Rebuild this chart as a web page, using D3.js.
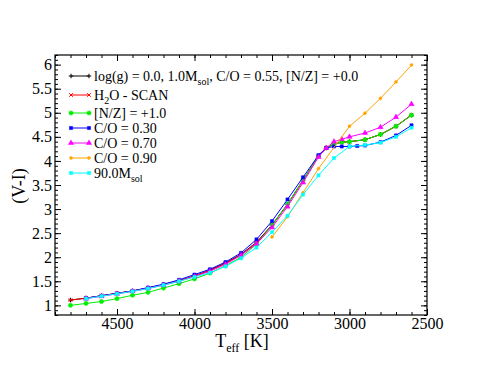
<!DOCTYPE html>
<html>
<head>
	<meta charset='utf-8'>
	<title>(V-I) vs Teff</title>
	<style>
		body { margin: 0; background: #fff; }
		.axis path { stroke: none; }
		.axis line { stroke: #000; stroke-width: 1px; }
		.frame { fill: none; stroke: #000; stroke-width: 1.2px; }
		.series { fill: none; stroke-width: 1px; }
	</style>
</head>
<body>
<div id="chart"></div>
<script src='https://cdnjs.cloudflare.com/ajax/libs/d3/7.8.5/d3.min.js'></script>
<script>
	'use strict';

	// температуры
	const tMain = [4800, 4700, 4600, 4500, 4400, 4300, 4200, 4100, 4000, 3900, 3800, 3700, 3600, 3500, 3400, 3300, 3200, 3150, 3100, 3050, 3000, 2900, 2800, 2700, 2600];
	const tBlue = [4700, 4600, 4500, 4400, 4300, 4200, 4100, 4000, 3900, 3800, 3700, 3600, 3500, 3400, 3300, 3200, 3150, 3100, 3050, 3000, 2950, 2900, 2800, 2700, 2600];
	const tPink = [4700, 4600, 4500, 4400, 4300, 4200, 4100, 4000, 3900, 3800, 3700, 3600, 3500, 3400, 3300, 3200, 3150, 3100, 3050, 3000, 2900, 2800, 2700, 2600];
	const tOrange = [3500, 3400, 3300, 3200, 3000, 2900, 2800, 2700, 2600];
	const tCyan = [4700, 4600, 4500, 4400, 4300, 4200, 4100, 4000, 3900, 3800, 3700, 3600, 3500, 3400, 3300, 3200, 3100, 3000, 2900, 2800, 2700, 2600];

	// (V-I)
	const viRef   = [1.11, 1.15, 1.20, 1.25, 1.30, 1.36, 1.43, 1.51, 1.61, 1.73, 1.88, 2.06, 2.31, 2.67, 3.10, 3.60, 4.10, 4.27, 4.35, 4.39, 4.40, 4.44, 4.55, 4.72, 4.95];
	const viH2O   = [1.11, 1.15, 1.20, 1.25, 1.30, 1.36, 1.43, 1.51, 1.61, 1.73, 1.87, 2.05, 2.30, 2.66, 3.09, 3.59, 4.10, 4.27, 4.35, 4.39, 4.40, 4.44, 4.55, 4.72, 4.96];
	const viNZ    = [1.00, 1.04, 1.08, 1.14, 1.21, 1.27, 1.36, 1.45, 1.55, 1.67, 1.82, 2.00, 2.27, 2.66, 3.10, 3.60, 4.10, 4.27, 4.35, 4.39, 4.40, 4.44, 4.55, 4.72, 4.95];
	const viCO30  = [1.15, 1.20, 1.25, 1.30, 1.37, 1.44, 1.53, 1.64, 1.75, 1.90, 2.09, 2.37, 2.75, 3.20, 3.66, 4.12, 4.27, 4.30, 4.30, 4.30, 4.31, 4.32, 4.39, 4.53, 4.74];
	const viCO70  = [1.14, 1.19, 1.24, 1.29, 1.35, 1.42, 1.50, 1.60, 1.71, 1.85, 2.04, 2.28, 2.62, 3.05, 3.55, 4.08, 4.27, 4.40, 4.45, 4.50, 4.58, 4.70, 4.91, 5.18];
	const viCO90  = [2.42, 2.84, 3.34, 3.84, 4.72, 4.99, 5.30, 5.64, 5.99];
	const viM90   = [1.14, 1.19, 1.24, 1.29, 1.35, 1.42, 1.50, 1.59, 1.68, 1.81, 1.98, 2.20, 2.52, 2.86, 3.30, 3.70, 4.06, 4.30, 4.33, 4.38, 4.50, 4.69];

	const xTicks = [4500, 4000, 3500, 3000, 2500];
	const yTicks = [1, 1.5, 2, 2.5, 3, 3.5, 4, 4.5, 5, 5.5, 6];

	const FONT = "'Liberation Serif', 'Times New Roman', Times, 'DejaVu Serif', serif";
	const W = 494, H = 382;
	const plot = {left: 55, right: 427, top: 55, bottom: 315};

	const xScale = d3.scaleLinear().domain([4900, 2500]).range([plot.left, plot.right]);
	const yScale = d3.scaleLinear().domain([0.8, 6.2]).range([plot.bottom, plot.top]);

	const svg = d3.select('#chart').append('svg')
		.attr('width', W)
		.attr('height', H)
		.style('font-family', FONT);

	// Оси: основные и мелкие деления, все внутрь
	const xMinor = d3.range(4900, 2499, -100);
	const yMinor = d3.range(8, 63).map(v => v / 10);

	function addAxis(axis, tx, ty, labels) {
		const g = svg.append('g')
			.attr('class', 'axis')
			.attr('transform', 'translate(' + tx + ',' + ty + ')')
			.call(axis)
			.attr('font-family', null)
			.attr('font-size', null);
		if (!labels) g.selectAll('text').remove();
		g.selectAll('text')
			.style('font-family', FONT)
			.style('font-size', '16px')
			.attr('fill', '#000');
		return g;
	}

	addAxis(d3.axisBottom(xScale).tickValues(xMinor).tickSize(-3).tickFormat(''), 0, plot.bottom, false);
	addAxis(d3.axisTop(xScale).tickValues(xMinor).tickSize(-3).tickFormat(''), 0, plot.top, false);
	addAxis(d3.axisLeft(yScale).tickValues(yMinor).tickSize(-3).tickFormat(''), plot.left, 0, false);
	addAxis(d3.axisRight(yScale).tickValues(yMinor).tickSize(-3).tickFormat(''), plot.right, 0, false);

	addAxis(d3.axisBottom(xScale).tickValues(xTicks).tickSize(-6).tickPadding(3).tickFormat(d3.format('d')), 0, plot.bottom, true);
	addAxis(d3.axisTop(xScale).tickValues(xTicks).tickSize(-6), 0, plot.top, false);
	addAxis(d3.axisLeft(yScale).tickValues(yTicks).tickSize(-6).tickPadding(3).tickFormat(d => String(d)), plot.left, 0, true);
	addAxis(d3.axisRight(yScale).tickValues(yTicks).tickSize(-6), plot.right, 0, false);

	svg.append('rect')
		.attr('class', 'frame')
		.attr('x', plot.left).attr('y', plot.top)
		.attr('width', plot.right - plot.left).attr('height', plot.bottom - plot.top);

	// Серии
	const series = [
		{t: tMain, v: viRef, color: '#000000', symbol: d3.symbolPlus, size: 8, fill: false},
		{t: tMain, v: viH2O, color: '#ff0000', symbol: d3.symbolTimes, size: 10, fill: false},
		{t: tMain, v: viNZ, color: '#00ee00', symbol: d3.symbolCircle, size: 14, fill: true},
		{t: tBlue, v: viCO30, color: '#0000ff', symbol: d3.symbolSquare, size: 10, fill: true},
		{t: tPink, v: viCO70, color: '#ff00ff', symbol: d3.symbolTriangle, size: 12, fill: true},
		{t: tOrange, v: viCO90, color: '#ffa500', symbol: d3.symbolCircle, size: 7, fill: true},
		{t: tCyan, v: viM90, color: '#00ffff', symbol: d3.symbolSquare, size: 10, fill: true}
	];

	const line = d3.line()
		.x(d => xScale(d[0]))
		.y(d => yScale(d[1]));

	function drawMarker(g, s, x, y) {
		g.append('path')
			.attr('d', d3.symbol().type(s.symbol).size(s.size)())
			.attr('transform', 'translate(' + x + ',' + y + ')')
			.attr('fill', s.fill ? s.color : 'none')
			.attr('stroke', s.color)
			.attr('stroke-width', s.fill ? 0.5 : 1);
	}

	series.forEach(s => {
		const pts = s.t.map((t, i) => [t, s.v[i]]);
		const g = svg.append('g');
		g.append('path')
			.datum(pts)
			.attr('class', 'series')
			.attr('stroke', s.color)
			.attr('d', line);
		pts.forEach(p => drawMarker(g, s, xScale(p[0]), yScale(p[1])));
	});

	// Легенда
	const legendY = [76, 95, 113, 128, 143, 158, 173];
	const legend = svg.append('g').attr('class', 'legend');

	function addSub(text, parts) {
		parts.forEach(p => {
			const ts = text.append('tspan').text(p.s);
			if (p.sub) ts.style('font-size', '10px').attr('dy', '4');
			else if (p.up) ts.attr('dy', '-4');
		});
	}

	const legendParts = [
		[{s: 'log(g) = 0.0, 1.0M'}, {s: 'sol', sub: true}, {s: ', C/O = 0.55, [N/Z] = +0.0', up: true}],
		[{s: 'H'}, {s: '2', sub: true}, {s: 'O - SCAN', up: true}],
		[{s: '[N/Z] = +1.0'}],
		[{s: 'C/O = 0.30'}],
		[{s: 'C/O = 0.70'}],
		[{s: 'C/O = 0.90'}],
		[{s: '90.0M'}, {s: 'sol', sub: true}]
	];

	series.forEach((s, i) => {
		const y = legendY[i];
		legend.append('line')
			.attr('x1', 71).attr('x2', 89)
			.attr('y1', y).attr('y2', y)
			.attr('stroke', s.color)
			.attr('stroke-width', 1);
		drawMarker(legend, s, 71, y);
		drawMarker(legend, s, 89, y);
		const text = legend.append('text')
			.attr('x', 94)
			.attr('y', y + 5)
			.style('font-size', '14px')
			.attr('fill', '#000');
		addSub(text, legendParts[i]);
	});

	// Подписи осей
	const xt = svg.append('text')
		.attr('x', 242)
		.attr('y', 347)
		.attr('text-anchor', 'middle')
		.style('font-size', '18px');
	xt.append('tspan').text('T');
	xt.append('tspan').text('eff').style('font-size', '12px').attr('dy', '5');
	xt.append('tspan').text(' [K]').attr('dy', '-5');

	svg.append('text')
		.attr('transform', 'translate(25,186) rotate(-90)')
		.attr('text-anchor', 'middle')
		.style('font-size', '18px')
		.text('(V-I)');
</script>
</body>
</html>
